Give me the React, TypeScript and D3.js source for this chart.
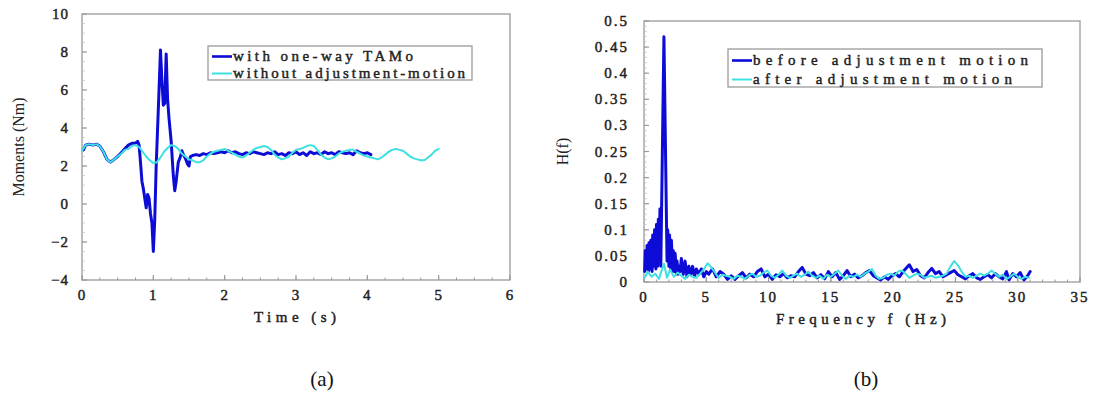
import React from "react";
import * as d3 from "d3";

// ---- Panel (a): moments vs time ----
const tamoTime = [0.02,0.05,0.1,0.15,0.2,0.25,0.3,0.35,0.4,0.45,0.5,0.55,0.6,0.65,0.7,0.75,0.78,0.8,0.82,0.84,0.86,0.88,0.9,0.92,0.94,0.96,0.98,1.0,1.02,1.04,1.06,1.07,1.08,1.1,1.12,1.14,1.16,1.18,1.2,1.22,1.25,1.28,1.3,1.32,1.35,1.38,1.4,1.42,1.45,1.48,1.5,1.52,1.55,1.6,1.65,1.7,1.75,1.8,1.85,1.9,1.95,2.0,2.05,2.1,2.15,2.2,2.25,2.3,2.35,2.4,2.45,2.5,2.55,2.6,2.65,2.7,2.75,2.8,2.85,2.9,2.95,3.0,3.05,3.1,3.15,3.2,3.25,3.3,3.35,3.4,3.45,3.5,3.55,3.6,3.65,3.7,3.75,3.8,3.85,3.9,3.95,4.0,4.05];
const tamoMoment = [2.85,3.1,3.15,3.1,3.15,3.05,2.75,2.35,2.2,2.35,2.5,2.7,2.9,3.1,3.2,3.2,3.3,3.1,2.2,1.2,0.8,0.3,-0.2,0.5,0.3,-0.5,-1.0,-2.5,-0.8,2.0,4.0,5.0,6.0,8.1,6.5,5.2,5.3,7.9,5.5,4.5,3.3,1.5,0.7,1.2,2.2,2.5,2.8,2.6,2.4,2.1,2.0,2.5,2.55,2.6,2.55,2.65,2.6,2.7,2.65,2.7,2.75,2.7,2.8,2.7,2.75,2.65,2.6,2.7,2.65,2.75,2.7,2.65,2.6,2.7,2.65,2.75,2.6,2.65,2.55,2.7,2.65,2.75,2.6,2.7,2.55,2.75,2.65,2.7,2.6,2.75,2.65,2.7,2.6,2.75,2.7,2.65,2.7,2.6,2.8,2.7,2.65,2.7,2.6];

const noAdjTime = [0.0,0.05,0.1,0.15,0.2,0.25,0.3,0.35,0.4,0.45,0.5,0.55,0.6,0.65,0.7,0.75,0.8,0.85,0.9,0.95,1.0,1.05,1.1,1.15,1.2,1.25,1.3,1.35,1.4,1.45,1.5,1.55,1.6,1.65,1.7,1.75,1.8,1.85,1.9,1.95,2.0,2.05,2.1,2.15,2.2,2.25,2.3,2.35,2.4,2.45,2.5,2.55,2.6,2.65,2.7,2.75,2.8,2.85,2.9,2.95,3.0,3.05,3.1,3.15,3.2,3.25,3.3,3.35,3.4,3.45,3.5,3.55,3.6,3.65,3.7,3.75,3.8,3.85,3.9,3.95,4.0,4.05,4.1,4.15,4.2,4.25,4.3,4.35,4.4,4.45,4.5,4.55,4.6,4.65,4.7,4.75,4.8,4.85,4.9,4.95,5.0];
const noAdjMoment = [2.8,3.1,3.15,3.1,3.15,3.05,2.75,2.35,2.2,2.35,2.5,2.65,2.85,2.9,3.05,3.1,3.0,2.75,2.5,2.3,2.15,2.2,2.45,2.75,2.95,3.1,3.05,2.9,2.65,2.5,2.35,2.3,2.2,2.2,2.3,2.5,2.65,2.75,2.8,2.85,2.9,2.8,2.7,2.6,2.5,2.45,2.55,2.7,2.85,2.95,3.0,3.05,3.0,2.85,2.6,2.45,2.35,2.4,2.5,2.7,2.85,2.9,2.95,3.05,3.1,3.05,2.85,2.6,2.45,2.35,2.4,2.5,2.65,2.75,2.8,2.85,2.85,2.75,2.65,2.55,2.5,2.45,2.4,2.35,2.45,2.6,2.75,2.85,2.9,2.85,2.8,2.65,2.5,2.4,2.35,2.3,2.3,2.45,2.6,2.8,2.9];

const timeTicks = [0, 1, 2, 3, 4, 5, 6];
const momentTicks = [-4, -2, 0, 2, 4, 6, 8, 10];

// ---- Panel (b): spectrum ----
const beforeFreq = [0.05,0.1,0.2,0.25,0.35,0.4,0.5,0.55,0.65,0.7,0.8,0.85,0.95,1.0,1.1,1.15,1.22,1.28,1.35,1.6,1.85,1.9,2.0,2.05,2.15,2.2,2.3,2.35,2.45,2.5,2.6,2.65,2.75,2.8,2.9,3.0,3.15,3.3,3.45,3.6,3.75,3.9,4.05,4.2,4.4,4.6,4.8,5.0,5.2,5.5,5.8,6.1,6.4,6.7,7.0,7.3,7.6,7.9,8.2,8.5,8.8,9.1,9.4,9.7,10.0,10.3,10.6,10.9,11.2,11.5,11.8,12.1,12.4,12.7,13.0,13.3,13.6,13.9,14.2,14.5,14.8,15.1,15.4,15.7,16.0,16.3,16.6,16.9,17.2,17.5,17.8,18.1,18.4,18.7,19.0,19.3,19.6,19.9,20.2,20.5,20.8,21.1,21.3,21.6,21.9,22.2,22.5,22.8,23.1,23.4,23.7,24.0,24.3,24.6,24.9,25.2,25.5,25.8,26.1,26.4,26.7,27.0,27.3,27.6,27.9,28.2,28.5,28.8,29.1,29.3,29.6,29.9,30.2,30.5,30.8,31.0];
const beforeH = [0.02,0.06,0.025,0.07,0.02,0.075,0.025,0.08,0.02,0.09,0.03,0.1,0.025,0.11,0.03,0.12,0.04,0.14,0.03,0.47,0.04,0.1,0.03,0.09,0.025,0.08,0.02,0.06,0.02,0.055,0.015,0.04,0.015,0.03,0.02,0.045,0.015,0.04,0.01,0.03,0.015,0.03,0.01,0.025,0.015,0.025,0.01,0.02,0.015,0.025,0.01,0.02,0.015,0.005,0.012,0.005,0.012,0.018,0.008,0.015,0.01,0.02,0.025,0.01,0.015,0.005,0.014,0.01,0.016,0.008,0.012,0.01,0.02,0.028,0.015,0.012,0.018,0.008,0.014,0.006,0.02,0.01,0.018,0.005,0.012,0.022,0.01,0.015,0.008,0.012,0.018,0.022,0.012,0.008,0.004,0.01,0.005,0.012,0.016,0.01,0.02,0.028,0.033,0.02,0.024,0.012,0.008,0.018,0.026,0.016,0.02,0.01,0.014,0.018,0.022,0.014,0.01,0.006,0.012,0.016,0.008,0.005,0.01,0.014,0.008,0.016,0.01,0.006,0.02,0.004,0.016,0.01,0.018,0.004,0.012,0.02];

const afterFreq = [0.05,0.3,0.6,0.9,1.2,1.6,1.85,2.1,2.4,2.7,3.0,3.3,3.6,3.9,4.2,4.5,4.8,5.1,5.4,5.7,6.0,6.3,6.6,6.9,7.2,7.5,7.8,8.1,8.4,8.7,9.0,9.3,9.6,9.9,10.2,10.5,10.8,11.1,11.4,11.7,12.0,12.3,12.6,12.9,13.2,13.5,13.8,14.1,14.4,14.7,15.0,15.3,15.6,15.9,16.2,16.5,16.8,17.1,17.4,17.7,18.0,18.3,18.6,18.9,19.2,19.5,19.8,20.1,20.4,20.7,21.0,21.3,21.6,21.9,22.2,22.5,22.8,23.1,23.4,23.7,24.0,24.3,24.6,24.9,25.2,25.5,25.8,26.1,26.4,26.7,27.0,27.3,27.6,27.9,28.2,28.5,28.8,29.1,29.4,29.7,30.0,30.3,30.6,30.9];
const afterH = [0.008,0.02,0.01,0.016,0.006,0.035,0.008,0.024,0.01,0.018,0.012,0.006,0.014,0.01,0.008,0.016,0.024,0.036,0.028,0.018,0.008,0.014,0.012,0.01,0.006,0.012,0.01,0.006,0.012,0.016,0.01,0.012,0.018,0.022,0.012,0.008,0.014,0.022,0.012,0.008,0.012,0.016,0.01,0.014,0.02,0.012,0.008,0.012,0.006,0.014,0.01,0.016,0.022,0.012,0.006,0.012,0.01,0.014,0.01,0.016,0.02,0.025,0.012,0.006,0.008,0.014,0.016,0.012,0.02,0.022,0.016,0.008,0.012,0.016,0.014,0.008,0.01,0.012,0.008,0.01,0.012,0.016,0.03,0.04,0.032,0.02,0.01,0.012,0.008,0.012,0.016,0.012,0.016,0.022,0.016,0.01,0.014,0.006,0.01,0.016,0.01,0.006,0.01,0.008];

const freqTicks = [0, 5, 10, 15, 20, 25, 30, 35];
const hTicks = [0, 0.05, 0.1, 0.15, 0.2, 0.25, 0.3, 0.35, 0.4, 0.45, 0.5];

const legendA = ["with one-way TAMo", "without adjustment-motion"];
const legendB = ["before adjustment motion", "after adjustment motion"];
const captions = ["(a)", "(b)"];

const BLUE = "#0c0cd6";
const CYAN = "#3fe0e0";
const FRAME = "#9a9a9a";
const FONT = "Liberation Serif";
const INK = "#222";

type Pt = [number, number];

function Panel(props: {
  x: d3.ScaleLinear<number, number>;
  y: d3.ScaleLinear<number, number>;
  xTicks: number[];
  yTicks: number[];
  xMinor: number;
  yMinor: number;
  xFmt: (v: number) => string;
  yFmt: (v: number) => string;
  series: { pts: Pt[]; color: string; width: number }[];
  xTitle: string;
  xTitleLen: number;
  yTitle: string;
  yTitleX: number;
  legend: string[];
  legendBox: [number, number, number, number];
  legendTextLen: number[];
  yLabelGap: number;
  labelSpacing: number;
}) {
  const { x, y } = props;
  const [x0, x1] = x.range();
  const [yb, yt] = y.range();
  const line = d3.line<Pt>().x((d) => x(d[0])).y((d) => y(d[1]));
  const xd = x.domain();
  const yd = y.domain();
  const xMinorTicks = d3.range(xd[0], xd[1] + 1e-9, props.xMinor);
  const yMinorTicks = d3.range(yd[0], yd[1] + 1e-9, props.yMinor);
  const [lx, ly, lw, lh] = props.legendBox;
  const rowH = lh / 2;
  const heavy = { stroke: INK, strokeWidth: 0.45, fill: INK };
  return (
    <g fontFamily={FONT}>
      <rect x={x0} y={yt} width={x1 - x0} height={yb - yt} fill="white" stroke={FRAME} strokeWidth={1.3} />
      {xMinorTicks.map((t, i) => (
        <line key={"xm" + i} x1={x(t)} x2={x(t)} y1={yb} y2={yb - 2.5} stroke={FRAME} strokeWidth={1} />
      ))}
      {props.xTicks.map((t, i) => (
        <line key={"xM" + i} x1={x(t)} x2={x(t)} y1={yb} y2={yb - 5} stroke={FRAME} strokeWidth={1.2} />
      ))}
      {yMinorTicks.map((t, i) => (
        <line key={"ym" + i} x1={x0} x2={x0 + 2.5} y1={y(t)} y2={y(t)} stroke="#c4c4c4" strokeWidth={1} />
      ))}
      {props.yTicks.map((t, i) => (
        <line key={"yM" + i} x1={x0} x2={x0 + 5} y1={y(t)} y2={y(t)} stroke={FRAME} strokeWidth={1.2} />
      ))}
      {props.series.map((s, i) => (
        <path key={"s" + i} d={line(s.pts) || ""} fill="none" stroke={s.color} strokeWidth={s.width} strokeLinejoin="round" strokeLinecap="round" />
      ))}
      {props.xTicks.map((t, i) => (
        <text key={"xl" + i} x={x(t)} y={yb + 20} textAnchor="middle" fontSize={15} letterSpacing={props.labelSpacing} {...heavy}>
          {props.xFmt(t)}
        </text>
      ))}
      {props.yTicks.map((t, i) => (
        <text key={"yl" + i} x={x0 - props.yLabelGap} y={y(t) + 5} textAnchor="end" fontSize={15} letterSpacing={props.labelSpacing} {...heavy}>
          {props.yFmt(t)}
        </text>
      ))}
      <text x={(x0 + x1) / 2 - 1} y={yb + 42} textAnchor="middle" fontSize={15} textLength={props.xTitleLen} lengthAdjust="spacing" {...heavy}>
        {props.xTitle}
      </text>
      <text transform={`translate(${props.yTitleX},${(yb + yt) / 2}) rotate(-90)`} textAnchor="middle" fontSize={16} fill={INK}>
        {props.yTitle}
      </text>
      <rect x={lx} y={ly} width={lw} height={lh} fill="white" stroke={FRAME} strokeWidth={1.3} />
      {props.legend.map((name, i) => {
        const cy = ly + rowH * (i + 0.5) + 2;
        return (
          <g key={"lg" + i}>
            <line x1={lx + 4} x2={lx + 24} y1={cy} y2={cy} stroke={props.series[i].color} strokeWidth={i === 0 ? 2.6 : 2} />
            <text x={lx + 25} y={cy + 4.5} fontSize={15} textLength={props.legendTextLen[i]} lengthAdjust="spacing" {...heavy}>
              {name}
            </text>
          </g>
        );
      })}
    </g>
  );
}

export default function App() {
  const xA = d3.scaleLinear().domain([0, 6]).range([82, 510]);
  const yA = d3.scaleLinear().domain([-4, 10]).range([280, 14]);
  const xB = d3.scaleLinear().domain([0, 35]).range([644, 1080]);
  const yB = d3.scaleLinear().domain([0, 0.5]).range([282, 21]);

  const tamo: Pt[] = tamoTime.map((t, i) => [t, tamoMoment[i]]);
  const noAdj: Pt[] = noAdjTime.map((t, i) => [t, noAdjMoment[i]]);
  const before: Pt[] = beforeFreq.map((f, i) => [f, beforeH[i]]);
  const after: Pt[] = afterFreq.map((f, i) => [f, afterH[i]]);

  return (
    <svg width={1093} height={394} style={{ position: "absolute", left: 0, top: 0, background: "white" }}>
      <Panel
        x={xA}
        y={yA}
        xTicks={timeTicks}
        yTicks={momentTicks}
        xMinor={0.25}
        yMinor={0.5}
        xFmt={(v) => d3.format("d")(v)}
        yFmt={(v) => d3.format("d")(v)}
        series={[
          { pts: tamo, color: BLUE, width: 3 },
          { pts: noAdj, color: CYAN, width: 2 },
        ]}
        xTitle="Time (s)"
        xTitleLen={82}
        yTitle="Moments (Nm)"
        yTitleX={24}
        legend={legendA}
        legendBox={[208, 46, 264, 34]}
        legendTextLen={[180, 232]}
        yLabelGap={13}
        labelSpacing={1}
      />
      <Panel
        x={xB}
        y={yB}
        xTicks={freqTicks}
        yTicks={hTicks}
        xMinor={1}
        yMinor={0.01}
        xFmt={(v) => d3.format("d")(v)}
        yFmt={(v) => String(v)}
        series={[
          { pts: before, color: BLUE, width: 3 },
          { pts: after, color: CYAN, width: 2 },
        ]}
        xTitle="Frequency f (Hz)"
        xTitleLen={170}
        yTitle="H(f)"
        yTitleX={568}
        legend={legendB}
        legendBox={[728, 49, 314, 38]}
        legendTextLen={[275, 259]}
        yLabelGap={15}
        labelSpacing={2}
      />
      {captions.map((c, i) => (
        <text key={c} x={i === 0 ? 322 : 866} y={386} textAnchor="middle" fontSize={21} fontFamily={FONT} fill="#111">
          {c}
        </text>
      ))}
    </svg>
  );
}
